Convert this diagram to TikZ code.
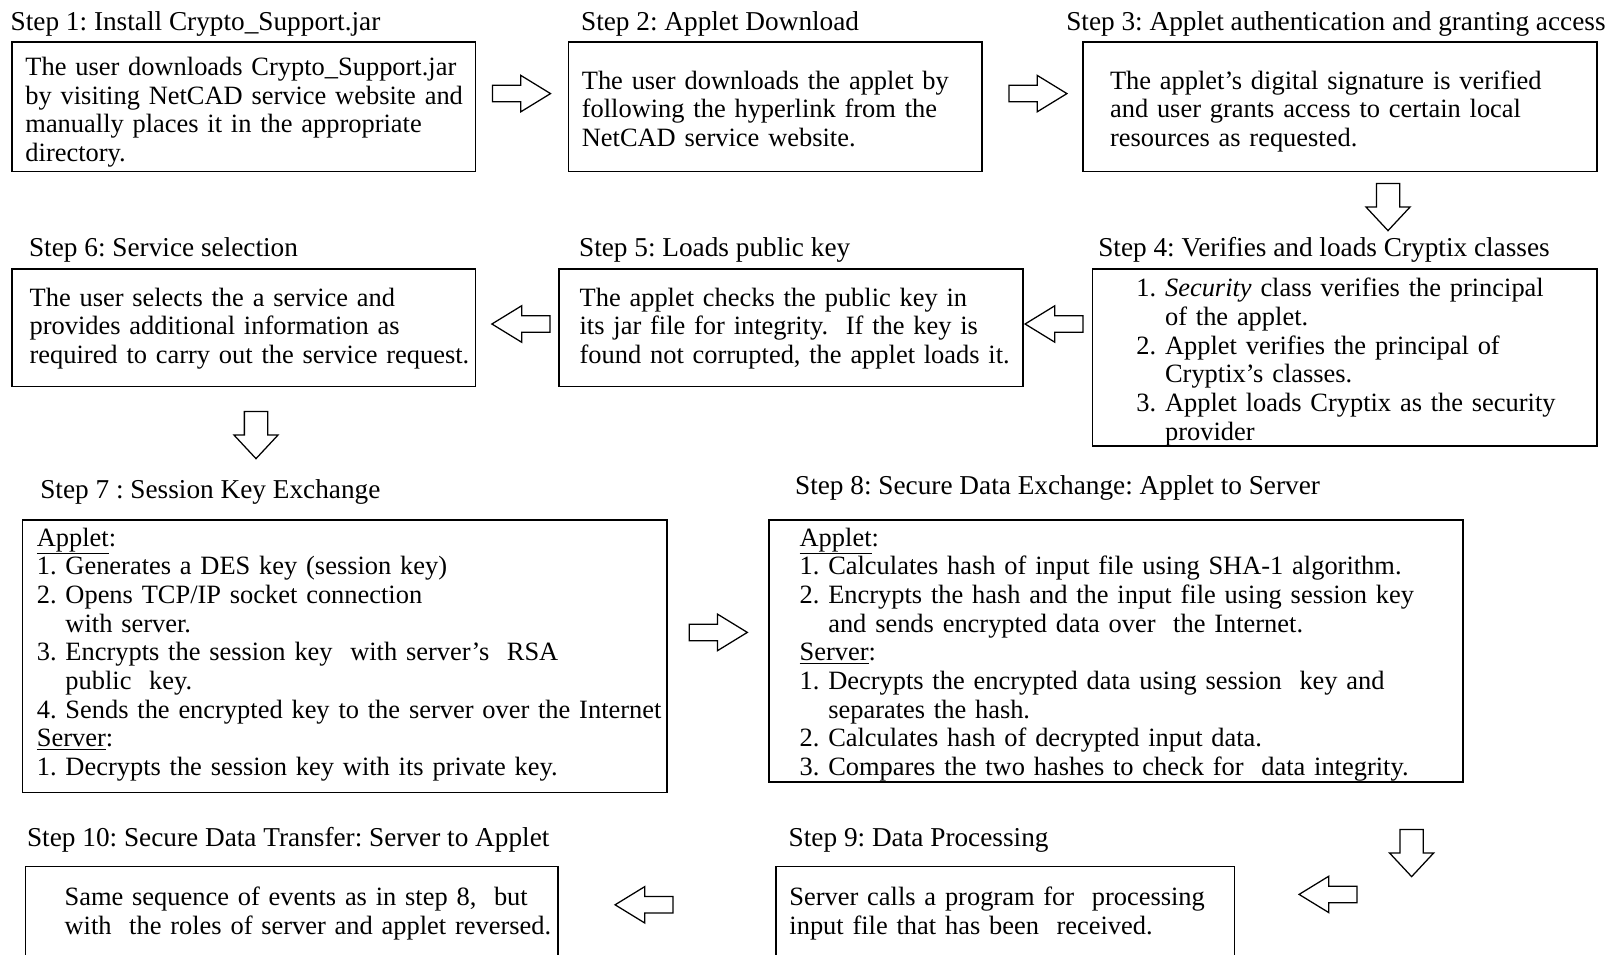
\documentclass[tikz,border=0pt]{standalone}
\usepackage{fontspec}
\setmainfont{Liberation Serif}
\usetikzlibrary{positioning,shapes.arrows}
\newcommand{\boxrows}[2][0cm]{\raisebox{-#1}[\height][\depth]{\begin{tabular}{@{}l@{}}#2\end{tabular}}}
\newcommand{\cont}{\hphantom{1. }}

\begin{document}
\begin{tikzpicture}[x=1cm,y=1cm,font=\fontsize{18.8}{20.4}\selectfont\frenchspacing,
 box/.style={draw=black,line width=1.2pt,anchor=north west,align=left,inner ysep=0pt},
 lbl/.style={anchor=base west,inner sep=0pt,font=\fontsize{19.4}{20.4}\selectfont\frenchspacing},
 harrow/.style={single arrow,draw=black,line width=.9pt,inner sep=0pt,text height=.38cm,text depth=0pt,
  single arrow head extend=.25cm,single arrow tip angle=63,minimum height=1.45cm},
 varrow/.style={harrow,rotate=-90,text height=.55cm,single arrow head extend=.26cm,
  single arrow tip angle=86,minimum height=1.18cm}]
\useasboundingbox (0,0) rectangle (40.3,-23.875);
% first row
\node[lbl] (l1) at (.26,-.76) {Step 1: Install Crypto\_Support.jar};
\node[lbl] (l2) at (14.52,-.76) {Step 2: Applet Download};
\node[lbl] (l3) at (26.65,-.76) {Step 3: Applet authentication and granting access};
\node[box,text width=10.92cm,inner xsep=.335cm,minimum height=3.24cm] (b1) at (.28,-1.03)
 {\boxrows[.15cm]{The user downloads Crypto\_Support.jar\\by visiting NetCAD service website and\\manually places it in the appropriate\\directory.}};
\node[box,text width=9.66cm,inner xsep=.335cm,minimum height=3.24cm] (b2) at (14.19,-1.03)
 {\boxrows[.13cm]{The user downloads the applet by\\following the hyperlink from the\\NetCAD service website.}};
\node[box,text width=11.51cm,inner xsep=.67cm,minimum height=3.24cm] (b3) at (27.06,-1.03)
 {\boxrows[.13cm]{The applet's digital signature is verified\\and user grants access to certain local\\resources as requested.}};
\node[harrow] (a12) at (12.87,-2.34) {};
\node[harrow] (a23) at (25.78,-2.34) {};
\node[varrow] (a34) at (34.70,-5.02) {};
% second row
\node[lbl] (l4) at (27.45,-6.40) {Step 4: Verifies and loads Cryptix classes};
\node[lbl] (l5) at (14.47,-6.40) {Step 5: Loads public key};
\node[lbl] (l6) at (.72,-6.40) {Step 6: Service selection};
\node[box,text width=10.42cm,inner xsep=1.1cm,minimum height=4.42cm] (b4) at (27.29,-6.71)
 {\boxrows[.13cm]{1. \textit{Security} class verifies the principal\\\cont of the applet.\\2. Applet verifies the principal of\\\cont Cryptix's classes.\\3. Applet loads Cryptix as the security\\\cont provider}};
\node[box,text width=10.57cm,inner xsep=.51cm,minimum height=2.93cm] (b5) at (13.96,-6.71)
 {\boxrows[.03cm]{The applet checks the public key in\\its jar file for integrity.\ \ If the key is\\found not corrupted, the applet loads it.}};
\node[box,text width=10.71cm,inner xsep=.44cm,minimum height=2.93cm] (b6) at (.28,-6.71)
 {\boxrows[.03cm]{The user selects the a service and\\provides additional information as\\required to carry out the service request.}};
\node[harrow,rotate=180] (a45) at (26.52,-8.10) {};
\node[harrow,rotate=180] (a56) at (13.19,-8.10) {};
\node[varrow] (a67) at (6.40,-10.72) {};
% third row
\node[lbl] (l7) at (1.00,-12.47) {Step 7 : Session Key Exchange};
\node[lbl] (l8) at (19.87,-12.37) {Step 8: Secure Data Exchange: Applet to Server};
\node[box,text width=15.40cm,inner xsep=.36cm,minimum height=6.81cm] (b7) at (.54,-12.98)
 {\boxrows[-.03cm]{\underline{Applet}:\\1. Generates a DES key (session key)\\2. Opens TCP/IP socket connection\\\cont with server.\\3. Encrypts the session key\ \ with server's\ \ RSA\\\cont public\ \ key.\\4. Sends the encrypted key to the server over the Internet\\\underline{Server}:\\1. Decrypts the session key with its private key.}};
\node[box,text width=15.81cm,inner xsep=.77cm,minimum height=6.555cm] (b8) at (19.20,-12.98)
 {\boxrows[.1cm]{\underline{Applet}:\\1. Calculates hash of input file using SHA-1 algorithm.\\2. Encrypts the hash and the input file using session key\\\cont and sends encrypted data over\ \ the Internet.\\\underline{Server}:\\1. Decrypts the encrypted data using session\ \ key and\\\cont separates the hash.\\2. Calculates hash of decrypted input data.\\3. Compares the two hashes to check for\ \ data integrity.}};
\node[harrow] (a78) at (17.79,-15.81) {};
\node[varrow] (a89) at (35.29,-21.17) {};
% last row
\node[lbl] (l9) at (19.71,-21.15) {Step 9: Data Processing};
\node[lbl] (l10) at (.67,-21.15) {Step 10: Secure Data Transfer: Server to Applet};
\node[box,text width=10.79cm,inner xsep=.335cm,minimum height=2.4cm] (b9) at (19.38,-21.64)
 {\boxrows{Server calls a program for\ \ processing\\input file that has been\ \ received.}};
\node[box,text width=11.36cm,inner xsep=.975cm,minimum height=2.4cm] (b10) at (.62,-21.64)
 {\boxrows{Same sequence of events as in step 8,\ \ but\\with\ \ the roles of server and applet reversed.}};
\node[harrow,rotate=180] (a9) at (33.37,-22.36) {};
\node[harrow,rotate=180] (a910) at (16.27,-22.62) {};
% the last two boxes run past the lower edge of the page
\end{tikzpicture}
\end{document}
